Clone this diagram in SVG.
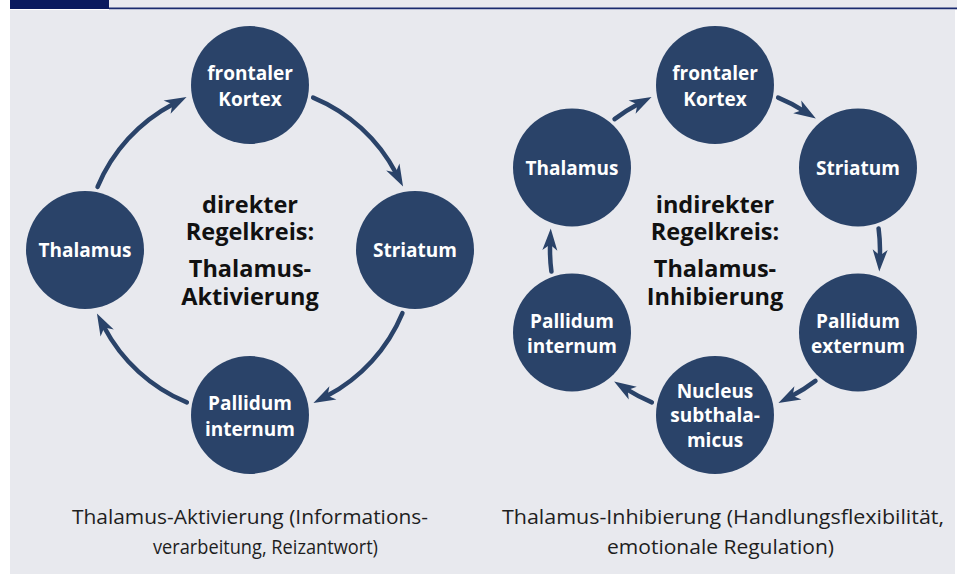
<svg xmlns="http://www.w3.org/2000/svg" width="957" height="574" viewBox="0 0 957 574">
<style>
.node circle{fill:#2a4369}
.node text{fill:#ffffff;font-family:"Open Sans","Noto Sans",sans-serif;font-weight:700;font-size:19px;text-anchor:middle}
.conn path{fill:none;stroke:#2a4369;stroke-width:4.5;stroke-linecap:round;marker-end:url(#ah)}
.title{fill:#111111;font-family:"Open Sans","Noto Sans",sans-serif;font-weight:700;font-size:23.5px;text-anchor:middle}
.cap{fill:#1e1e1e;font-family:"Open Sans","Noto Sans",sans-serif;font-size:19.5px}
</style>
<defs>
<marker id="ah" markerUnits="userSpaceOnUse" viewBox="-8 -8 24 16" refX="0" refY="0" markerWidth="24" markerHeight="16" orient="auto" overflow="visible">
<path d="M15,0 L-7,-7.5 L-1,0 L-7,7.5 Z" fill="#2a4369"/>
</marker>
</defs>
<rect x="0" y="0" width="957" height="574" fill="#ffffff"/>
<rect x="10" y="10" width="945" height="564" fill="#e8e9ee"/>
<rect x="109" y="0" width="848" height="8" fill="#e8e9ee"/>
<rect x="10" y="0" width="99" height="9" fill="#0a1a5e"/>
<rect x="109" y="7.5" width="848" height="1.8" fill="#1a2a6e"/>

<g id="connectors" class="conn">
<path d="M313.14,97.56 A165,165 0 0 1 396.09,173.30"/>
<path d="M402.44,313.14 A165,165 0 0 1 326.70,396.09"/>
<path d="M186.86,402.44 A165,165 0 0 1 103.91,326.70"/>
<path d="M97.56,186.86 A165,165 0 0 1 173.30,103.91"/>
<path d="M614.55,119.10 A165,165 0 0 1 638.30,103.91"/>
<path d="M778.14,97.56 A165,165 0 0 1 803.17,110.53"/>
<path d="M878.59,228.46 A165,165 0 0 1 879.87,256.62"/>
<path d="M815.45,380.90 A165,165 0 0 1 791.70,396.09"/>
<path d="M651.86,402.44 A165,165 0 0 1 626.83,389.47"/>
<path d="M551.41,271.54 A165,165 0 0 1 550.13,243.38"/>
</g>

<g id="L-kortex" class="node"><circle cx="250" cy="85" r="59"/><text x="250" y="80">frontaler</text><text x="250" y="105.5">Kortex</text></g>
<g id="L-striatum" class="node"><circle cx="415" cy="250" r="59"/><text x="415" y="257">Striatum</text></g>
<g id="L-pallidum-internum" class="node"><circle cx="250" cy="415" r="59"/><text x="250" y="410">Pallidum</text><text x="250" y="435.5">internum</text></g>
<g id="L-thalamus" class="node"><circle cx="85" cy="250" r="59"/><text x="85" y="257">Thalamus</text></g>

<g id="L-center">
<text class="title" x="250" y="213">direkter</text>
<text class="title" x="250" y="240">Regelkreis:</text>
<text class="title" x="250" y="277">Thalamus-</text>
<text class="title" x="250" y="305">Aktivierung</text>
</g>

<g id="R-kortex" class="node"><circle cx="715" cy="85" r="59"/><text x="715" y="80">frontaler</text><text x="715" y="105.5">Kortex</text></g>
<g id="R-striatum" class="node"><circle cx="858" cy="167.5" r="59"/><text x="858" y="174.5">Striatum</text></g>
<g id="R-pallidum-externum" class="node"><circle cx="858" cy="332.5" r="59"/><text x="858" y="327.5">Pallidum</text><text x="858" y="352.5">externum</text></g>
<g id="R-nucleus" class="node"><circle cx="715" cy="415" r="59"/><text x="715" y="397.5">Nucleus</text><text x="715" y="422">subthala-</text><text x="715" y="446.5">micus</text></g>
<g id="R-pallidum-internum" class="node"><circle cx="572" cy="332.5" r="59"/><text x="572" y="327.5">Pallidum</text><text x="572" y="352.5">internum</text></g>
<g id="R-thalamus" class="node"><circle cx="572" cy="167.5" r="59"/><text x="572" y="174.5">Thalamus</text></g>

<g id="R-center">
<text class="title" x="715" y="213">indirekter</text>
<text class="title" x="715" y="240">Regelkreis:</text>
<text class="title" x="715" y="277">Thalamus-</text>
<text class="title" x="715" y="305">Inhibierung</text>
</g>

<g id="captions">
<text class="cap" x="72" y="524" textLength="356" lengthAdjust="spacingAndGlyphs">Thalamus-Aktivierung (Informations-</text>
<text class="cap" x="153" y="554" textLength="225" lengthAdjust="spacingAndGlyphs">verarbeitung, Reizantwort)</text>
<text class="cap" x="502" y="524" textLength="442" lengthAdjust="spacingAndGlyphs">Thalamus-Inhibierung (Handlungsflexibilität,</text>
<text class="cap" x="607" y="554" textLength="227" lengthAdjust="spacingAndGlyphs">emotionale Regulation)</text>
</g>
</svg>
